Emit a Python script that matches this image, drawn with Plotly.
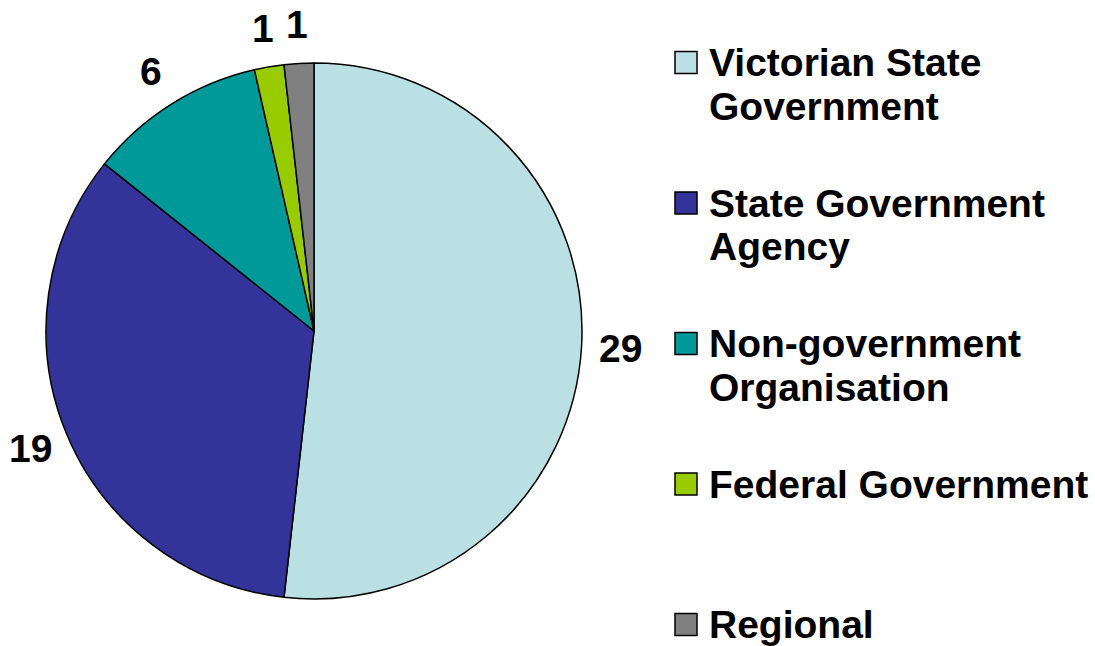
import math
import plotly.graph_objects as go

# ---- data ----
categories = ["Victorian State Government", "State Government Agency",
              "Non-government Organisation", "Federal Government", "Regional"]
legend_lines = [["Victorian State", "Government"], ["State Government", "Agency"],
                ["Non-government", "Organisation"], ["Federal Government"], ["Regional"]]
values = [29, 19, 6, 1, 1]
colors = ["#BBE0E3", "#333399", "#009999", "#99CC00", "#808080"]

W, H = 1095, 646
FONT = "Liberation Sans, Arial, sans-serif"
FS = 39

# pie geometry (pixels)
cx, cy, R = 314, 331, 268
dom_x = [(cx - R) / W, (cx + R) / W]
dom_y = [(H - cy - R) / H, (H - cy + R) / H]

fig = go.Figure(go.Pie(
    labels=categories, values=values, sort=False, direction="clockwise",
    rotation=0, marker=dict(colors=colors, line=dict(color="black", width=1.5)),
    textinfo="none", hoverinfo="label+value", showlegend=False,
    domain=dict(x=dom_x, y=dom_y),
))

annotations = []
shapes = []

# value labels outside each slice, placed radially from slice midpoints
total = sum(values)
cum = 0
r_lab = 307
for v in values:
    mid = (cum + v / 2) / total * 2 * math.pi
    cum += v
    lx = cx + r_lab * math.sin(mid)
    ly = cy - r_lab * math.cos(mid)
    annotations.append(dict(
        x=lx / W, y=1 - ly / H, xref="paper", yref="paper",
        text=f"<b>{v}</b>", showarrow=False, xanchor="center", yanchor="middle",
        font=dict(family=FONT, size=FS, color="black"),
    ))

# legend (custom, to match the reference spacing)
leg_x_sq = 686
leg_x_txt = 707
leg_y0 = 62.5
leg_step = 140.5
line_gap = 43.5
sq = 22
for i, lines in enumerate(legend_lines):
    yc = leg_y0 + i * leg_step
    shapes.append(dict(
        type="rect", xref="paper", yref="paper",
        x0=(leg_x_sq - sq / 2) / W, x1=(leg_x_sq + sq / 2) / W,
        y0=1 - (yc + sq / 2) / H, y1=1 - (yc - sq / 2) / H,
        fillcolor=colors[i], line=dict(color="black", width=1.5),
    ))
    for j, t in enumerate(lines):
        annotations.append(dict(
            x=leg_x_txt / W, y=1 - (yc + j * line_gap) / H,
            xref="paper", yref="paper", text=f"<b>{t}</b>", showarrow=False,
            xanchor="left", yanchor="middle",
            font=dict(family=FONT, size=FS, color="black"),
        ))

fig.update_layout(
    width=W, height=H, margin=dict(l=0, r=0, t=0, b=0),
    paper_bgcolor="white", plot_bgcolor="white",
    annotations=annotations, shapes=shapes,
)

fig.write_html("out.html", config={"displayModeBar": False},
               post_script="document.body.style.margin='0';document.body.style.overflow='hidden';")
